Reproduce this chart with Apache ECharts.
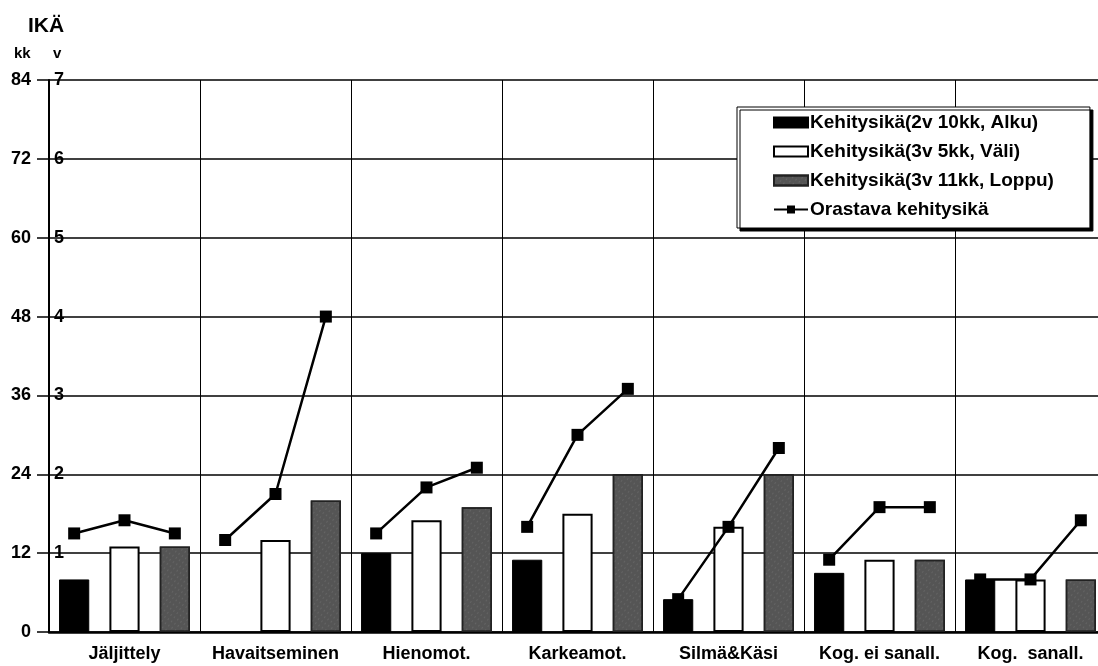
<!DOCTYPE html>
<html><head><meta charset="utf-8">
<script src="https://cdn.jsdelivr.net/npm/echarts@6/dist/echarts.min.js"></script>
<style>html,body{margin:0;padding:0;background:#fff;overflow:hidden;width:1098px;height:666px}#c{width:1106px;height:666px}</style>
</head><body><div id="c"></div>
<script>
const categories = ['Jäljittely','Havaitseminen','Hienomot.','Karkeamot.','Silmä&Käsi','Kog. ei sanall.','Kog.  sanall.'];
const alku   = [8, null, 12, 11, 5, 9, 8];
const vali   = [13, 14, 17, 18, 16, 11, 8];
const loppu  = [13, 20, 19, 24, 24, 11, 8];
const orastava = [[15,17,15],[14,21,48],[15,22,25],[16,30,37],[5,16,28],[11,19,19],[8,8,17]];
const seriesNames = ['Kehitysikä(2v 10kk, Alku)','Kehitysikä(3v 5kk, Väli)','Kehitysikä(3v 11kk, Loppu)','Orastava kehitysikä'];

const FONT = 'Liberation Sans, Arial, sans-serif';
// line points sit on the bar centres: bars are 20% wide with a 66.7% gap => 1/3 category apart
const lineData = [];
orastava.forEach((grp, i) => {
  grp.forEach((v, k) => lineData.push([i + 0.5 + (k - 1) / 3, v]));
  lineData.push([i + 1, '-']);
});

const chart = echarts.init(document.getElementById('c'), null, {renderer:'canvas'});
chart.setOption({
  animation:false,
  backgroundColor:'#fff',
  textStyle:{fontFamily:FONT},
  graphic:[
    {type:'text', left:28, top:16, style:{text:'IKÄ', font:'bold 21px '+FONT, fill:'#000'}},
    {type:'text', left:14, top:46, style:{text:'kk', font:'bold 15px '+FONT, fill:'#000'}},
    {type:'text', left:53, top:46, style:{text:'v', font:'bold 15px '+FONT, fill:'#000'}}
  ],
  legend:{
    orient:'vertical', left:737, top:107,
    data:[
      {name:seriesNames[0], icon:'rect'},
      {name:seriesNames[1], icon:'rect'},
      {name:seriesNames[2], icon:'rect'},
      {name:seriesNames[3]}
    ],
    itemWidth:34, itemHeight:10, itemGap:10,
    padding:[6,36,9,36],
    backgroundColor:'#fff', borderColor:'#000', borderWidth:1,
    shadowColor:'#000', shadowOffsetX:3, shadowOffsetY:3, shadowBlur:0,
    textStyle:{fontFamily:FONT, fontWeight:'bold', fontSize:19, color:'#000', padding:[0,0,0,-3]}
  },
  grid:{left:49, right:0, top:80, bottom:34, containLabel:false},
  xAxis:[
    {type:'category', data:categories, gridIndex:0,
     axisLine:{lineStyle:{color:'#000', width:2.5}},
     axisTick:{show:false},
     axisLabel:{color:'#000', fontWeight:'bold', fontSize:18, fontFamily:FONT, margin:13, interval:0},
     splitLine:{show:true, lineStyle:{color:'#000', width:1}}},
    {type:'value', min:0, max:7, show:false, gridIndex:0}
  ],
  yAxis:[
    {type:'value', min:0, max:84, interval:12,
     axisLine:{show:true, lineStyle:{color:'#000', width:2}},
     axisTick:{show:true, length:12, lineStyle:{color:'#000', width:1.5}},
     axisLabel:{color:'#000', fontWeight:'bold', fontSize:18, fontFamily:FONT, margin:18},
     splitLine:{show:true, lineStyle:{color:'#000', width:1.5}}},
    {type:'value', position:'left', min:0, max:7, interval:1,
     axisLine:{show:false}, axisTick:{show:false}, splitLine:{show:false},
     axisLabel:{inside:true, margin:5, color:'#000', fontWeight:'bold', fontSize:18, fontFamily:FONT,
       padding:[6,0,0,0], formatter:v => v === 0 ? '' : String(v)}}
  ],
  series:[
    {name:seriesNames[0], type:'bar', data:alku, barWidth:'20%', barGap:'66.7%',
     itemStyle:{color:'#000', borderColor:'#000', borderWidth:1}},
    {name:seriesNames[1], type:'bar', data:vali, barWidth:'20%', barGap:'66.7%',
     itemStyle:{color:'#fff', borderColor:'#000', borderWidth:2}},
    {name:seriesNames[2], type:'bar', data:loppu, barWidth:'20%', barGap:'66.7%',
     itemStyle:{color:'#555', borderColor:'#222', borderWidth:1.5,
       decal:{symbol:'rect', symbolSize:0.5, color:'rgba(255,255,255,0.35)', dashArrayX:[1,3], dashArrayY:[2,3], rotation:0.6}}},
    {name:seriesNames[3], type:'line', xAxisIndex:1, data:lineData, connectNulls:false,
     symbol:'rect', symbolSize:12, lineStyle:{color:'#000', width:2.5},
     itemStyle:{color:'#000'}, z:5}
  ]
});
</script></body></html>
